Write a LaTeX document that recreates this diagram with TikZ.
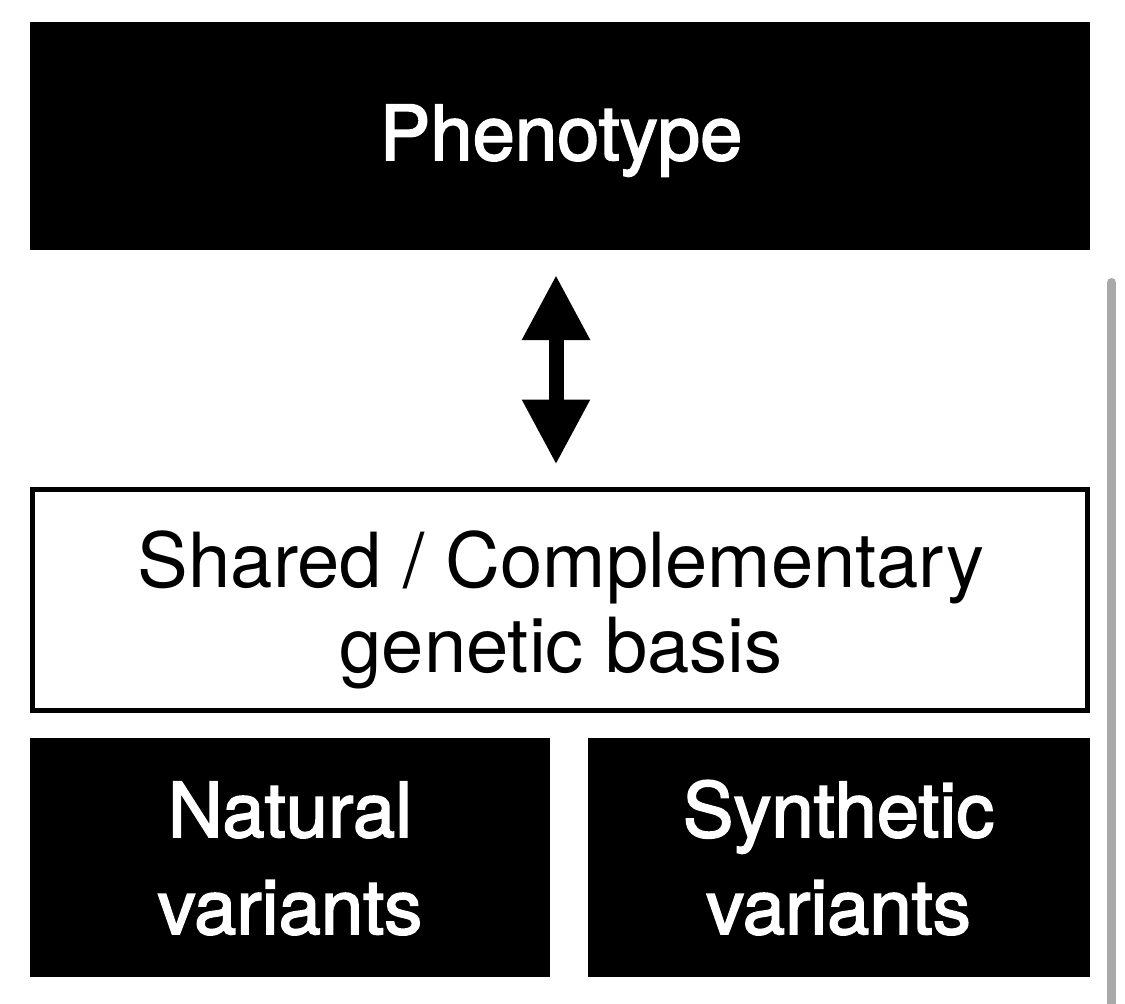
\documentclass[tikz,border=0pt]{standalone}
\usepackage{fontspec}
\setmainfont{TeX Gyre Heros}
\newfontfamily\medfont[FakeBold=2.2]{TeX Gyre Heros}
\usetikzlibrary{arrows.meta}
\definecolor{bargrey}{HTML}{A9A9A9}
\tikzset{
  blackbox/.style={fill=black, draw=none, inner sep=0pt, outer sep=0pt},
  whitebox/.style={fill=white, draw=black, line width=5pt, inner sep=0pt, outer sep=0pt},
  whitetext/.style={text=white, inner sep=0pt, anchor=base, align=center, font=\medfont\fontsize{76}{97}\selectfont},
  blacktext/.style={text=black, inner sep=0pt, anchor=base, align=center, font=\fontsize{76}{85}\selectfont},
  twoway/.style={line width=15pt, {Triangle[width=64pt,length=65pt]}-{Triangle[width=64pt,length=65pt]}, shorten <=25pt, shorten >=25pt},
}
\begin{document}
\begin{tikzpicture}[x=1pt,y=-1pt]
\useasboundingbox (0,0) rectangle (1125,1004);
\fill[white] (0,0) rectangle (1125,1004);
\node[blackbox, minimum width=1060pt, minimum height=228pt] (pheno) at (560,136) {};
\node[whitebox, minimum width=1055pt, minimum height=221pt] (basis) at (560,600) {};
\node[blackbox, minimum width=520pt, minimum height=239pt] (natural) at (290,857.5) {};
\node[blackbox, minimum width=502pt, minimum height=239pt] (synth) at (839,857.5) {};
\node[whitetext] (phenotxt) at (561,160) {Phenotype};
\node[blacktext] (basistxt) at (561,672) {Shared / Complementary\\genetic basis};
\node[whitetext] (naturaltxt) at (290,934) {Natural\\variants};
\node[whitetext] (synthtxt) at (838.5,934) {Synthetic\\variants};
\draw[twoway] (pheno.south -| 556,0) -- (basis.north -| 556,0);
\coordinate (bartop) at (1111.5,282.5);
\coordinate (barbot) at (1111.5,1015);
\draw[bargrey, line width=9pt, line cap=round] (bartop) -- (barbot);
\end{tikzpicture}
\end{document}
